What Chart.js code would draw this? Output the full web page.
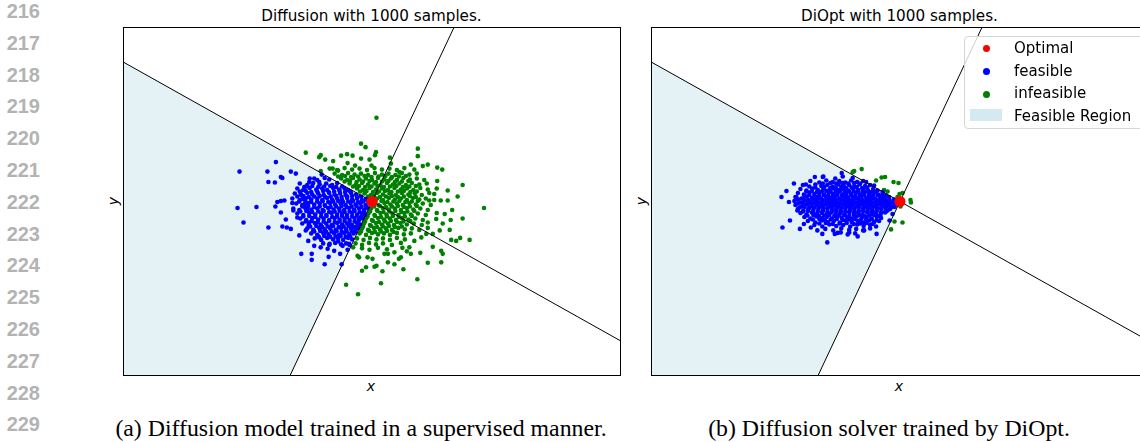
<!DOCTYPE html>
<html>
<head>
<meta charset="utf-8">
<script src="https://cdn.jsdelivr.net/npm/chart.js@4.4.1/dist/chart.umd.min.js"></script>
<style>
html, body { margin: 0; padding: 0; background: #fff; }
body { width: 1140px; height: 442px; overflow: hidden; position: relative; }
canvas { position: absolute; }
.ln { position: absolute; left: 4px; width: 36px; text-align: right; font: bold 20px "Liberation Sans", Arial, sans-serif; color: #b3b3b3; line-height: 20px; }
.ttl { position: absolute; width: 497px; text-align: center; font: 15.2px "DejaVu Sans", sans-serif; line-height: 16px; top: 8px; }
.ax { position: absolute; font: italic 14px "DejaVu Sans", sans-serif; line-height: 16px; width: 20px; text-align: center; }
.cap { position: absolute; width: 600px; text-align: center; font: 23.8px "Liberation Serif", "Times New Roman", serif; line-height: 24px; top: 416px; }
#legend { position: absolute; left: 964px; top: 36px; width: 180px; height: 93px; box-sizing: border-box; border: 1px solid #d6d6d6; border-radius: 4px; background: rgba(255,255,255,0.8); }
.li { position: absolute; left: 49px; font: 15px "DejaVu Sans", sans-serif; line-height: 16px; white-space: nowrap; }
.dot { position: absolute; left: 18px; width: 7px; height: 7px; border-radius: 50%; }
.patch { position: absolute; left: 5px; top: 72px; width: 32px; height: 12px; background: #d5e9f0; }
</style>
</head>
<body>
<div id="page"></div>
<canvas id="left" width="498" height="349" style="left:123px;top:27px"></canvas>
<canvas id="right" width="498" height="349" style="left:651px;top:27px"></canvas>
<div id="legend"></div>
<script>
// line numbers down the margin
const lineNumbers = ['216','217','218','219','220','221','222','223','224','225','226','227','228','229'];
const titles = ['Diffusion with 1000 samples.', 'DiOpt with 1000 samples.'];
const captions = ['(a) Diffusion model trained in a supervised manner.', '(b) Diffusion solver trained by DiOpt.'];
const legendLabels = ['Optimal', 'feasible', 'infeasible', 'Feasible Region'];

// the optimum, the two constraint lines and the feasible polygon
const optimum = [[0, 0]];
const constraintA = [[-5, 2.8], [5, -2.8]];
const constraintB = [[-1.65, -3.5], [1.65, 3.5]];
const regionCorners = [[-5, 2.8], [0, 0], [-1.65, -3.5], [-5, -3.5]];

// left: supervised diffusion
const leftFeasible = [
  [-2.66,0.60],[-2.10,0.60],[-1.93,0.79],[-2.08,0.39],[-1.95,0.38],[-1.83,0.49],[-1.80,0.47],[-1.63,0.60],[-1.53,0.56],
  [-2.70,-0.13],[-2.32,-0.11],[-2.58,-0.42],[-2.08,-0.52],[-1.94,-0.10],[-1.90,-0.01],[-1.83,0.01],[-1.76,0.02],
  [-1.83,-0.22],[-1.73,-0.36],[-1.80,-0.50],[-1.71,-0.52],[-1.63,-0.55],[-1.60,-0.03],[-1.58,-0.18],[-1.50,-0.32],
  [-1.46,-0.68],[-1.42,-1.05],[-1.21,-1.05],[-1.21,-1.17],[-0.95,-1.26],[-0.87,-1.11],[-0.64,-1.05],[-0.61,-1.26],
  [-1.36,0.29],[-1.26,0.39],[-1.16,0.46],[-1.06,0.39],[-1.01,0.54],[-1.43,0.15],[-1.40,0.05],[-1.35,-0.05],
  [-1.30,-0.15],[-1.26,-0.42],[-1.33,-0.58],[-1.28,-0.79],[-1.16,-0.89],[-1.06,-0.72],[-1.03,-0.92],[-0.89,-0.95],
  [-0.85,-0.85],[-0.76,-0.99],[-0.68,-0.80],[-0.59,-0.89],[-0.49,-0.97],[-0.46,-0.85],
  [-1.25,0.46],[-1.1,0.43],[-0.95,0.47],[-0.86,0.44],
  [-1.45,0.36],[-1.3,0.33],[-1.18,0.37],[-1.05,0.34],[-0.92,0.36],[-0.8,0.33],[-0.7,0.37],
  [-1.5,0.26],[-1.38,0.23],[-1.25,0.27],[-1.12,0.24],[-1.0,0.26],[-0.9,0.23],[-0.78,0.27],[-0.66,0.24],[-0.55,0.26],[-0.48,0.23],
  [-1.55,0.16],[-1.42,0.13],[-1.3,0.17],[-1.2,0.14],[-1.08,0.16],[-0.97,0.13],[-0.86,0.17],[-0.75,0.14],[-0.64,0.16],[-0.53,0.13],[-0.42,0.17],[-0.32,0.14],
  [-1.6,0.06],[-1.45,0.03],[-1.33,0.07],[-1.22,0.04],[-1.1,0.06],[-1.0,0.03],[-0.9,0.07],[-0.8,0.04],[-0.7,0.06],[-0.6,0.03],[-0.5,0.07],[-0.4,0.04],[-0.3,0.06],[-0.2,0.03],[-0.12,0.05],
  [-1.52,-0.04],[-1.4,-0.07],[-1.28,-0.03],[-1.16,-0.06],[-1.05,-0.04],[-0.95,-0.07],[-0.84,-0.03],[-0.74,-0.06],[-0.63,-0.04],[-0.53,-0.07],[-0.43,-0.03],[-0.33,-0.06],[-0.23,-0.04],[-0.13,-0.07],[-0.06,-0.03],
  [-1.58,-0.14],[-1.46,-0.17],[-1.34,-0.13],[-1.22,-0.16],[-1.1,-0.14],[-0.99,-0.17],[-0.88,-0.13],[-0.77,-0.16],[-0.66,-0.14],[-0.56,-0.17],[-0.46,-0.13],[-0.36,-0.16],[-0.26,-0.14],[-0.16,-0.17],[-0.1,-0.13],
  [-1.5,-0.24],[-1.38,-0.27],[-1.26,-0.23],[-1.14,-0.26],[-1.02,-0.24],[-0.92,-0.27],[-0.81,-0.23],[-0.7,-0.26],[-0.6,-0.24],[-0.5,-0.27],[-0.4,-0.23],[-0.3,-0.26],[-0.2,-0.24],[-0.14,-0.27],
  [-1.44,-0.34],[-1.32,-0.37],[-1.2,-0.33],[-1.08,-0.36],[-0.97,-0.34],[-0.86,-0.37],[-0.75,-0.33],[-0.65,-0.36],[-0.55,-0.34],[-0.45,-0.37],[-0.35,-0.33],[-0.26,-0.36],[-0.19,-0.34],
  [-1.4,-0.44],[-1.27,-0.47],[-1.15,-0.43],[-1.03,-0.46],[-0.92,-0.44],[-0.81,-0.47],[-0.7,-0.43],[-0.6,-0.46],[-0.5,-0.44],[-0.4,-0.47],[-0.3,-0.43],[-0.24,-0.46],
  [-1.3,-0.54],[-1.18,-0.57],[-1.06,-0.53],[-0.95,-0.56],[-0.84,-0.54],[-0.73,-0.57],[-0.62,-0.53],[-0.52,-0.56],[-0.42,-0.54],[-0.33,-0.57],[-0.28,-0.53],
  [-1.22,-0.64],[-1.1,-0.67],[-0.98,-0.63],[-0.87,-0.66],[-0.76,-0.64],[-0.66,-0.67],[-0.56,-0.63],[-0.46,-0.66],[-0.37,-0.64],
  [-1.15,-0.74],[-1.02,-0.77],[-0.9,-0.73],[-0.78,-0.76],[-0.68,-0.74],[-0.58,-0.77],[-0.48,-0.73],[-0.4,-0.76],
  [-0.98,-0.84],[-0.86,-0.87],[-0.74,-0.83],[-0.62,-0.86],[-0.52,-0.84],[-0.45,-0.87],
  [-1.32,0.30],[-1.2,0.31],[-1.08,0.29],[-0.96,0.30],[-0.84,0.31],[-0.72,0.29],[-0.6,0.30],
  [-1.45,0.20],[-1.33,0.21],[-1.22,0.19],[-1.1,0.20],[-0.98,0.21],[-0.87,0.19],[-0.76,0.20],[-0.65,0.21],[-0.54,0.19],[-0.44,0.20],
  [-1.5,0.10],[-1.38,0.11],[-1.27,0.09],[-1.16,0.10],[-1.05,0.11],[-0.94,0.09],[-0.83,0.10],[-0.72,0.11],[-0.61,0.09],[-0.5,0.10],[-0.4,0.11],[-0.3,0.09],[-0.22,0.10],
  [-1.46,0.0],[-1.34,0.01],[-1.22,-0.01],[-1.1,0.0],[-0.99,0.01],[-0.88,-0.01],[-0.78,0.0],[-0.68,0.01],[-0.58,-0.01],[-0.48,0.0],[-0.38,0.01],[-0.28,-0.01],[-0.18,0.0],[-0.09,0.01],
  [-1.4,-0.10],[-1.28,-0.09],[-1.16,-0.11],[-1.05,-0.10],[-0.94,-0.09],[-0.83,-0.11],[-0.72,-0.10],[-0.61,-0.09],[-0.51,-0.11],[-0.41,-0.10],[-0.31,-0.09],[-0.21,-0.11],[-0.12,-0.10],
  [-1.44,-0.20],[-1.32,-0.19],[-1.2,-0.21],[-1.08,-0.20],[-0.97,-0.19],[-0.86,-0.21],[-0.75,-0.20],[-0.65,-0.19],[-0.55,-0.21],[-0.45,-0.20],[-0.35,-0.19],[-0.25,-0.21],[-0.16,-0.20],
  [-1.38,-0.30],[-1.26,-0.29],[-1.14,-0.31],[-1.02,-0.30],[-0.91,-0.29],[-0.8,-0.31],[-0.7,-0.30],[-0.6,-0.29],[-0.5,-0.31],[-0.4,-0.30],[-0.3,-0.29],[-0.22,-0.31],
  [-1.33,-0.40],[-1.21,-0.39],[-1.09,-0.41],[-0.97,-0.40],[-0.86,-0.39],[-0.75,-0.41],[-0.65,-0.40],[-0.55,-0.39],[-0.45,-0.41],[-0.35,-0.40],[-0.27,-0.39],
  [-1.24,-0.50],[-1.12,-0.49],[-1.0,-0.51],[-0.89,-0.50],[-0.78,-0.49],[-0.67,-0.51],[-0.57,-0.50],[-0.47,-0.49],[-0.37,-0.51],[-0.3,-0.50],
  [-1.16,-0.60],[-1.04,-0.59],[-0.92,-0.61],[-0.81,-0.60],[-0.71,-0.59],[-0.61,-0.61],[-0.51,-0.60],[-0.41,-0.59],[-0.34,-0.61],
  [-1.08,-0.70],[-0.96,-0.69],[-0.84,-0.71],[-0.73,-0.70],[-0.63,-0.69],[-0.53,-0.71],[-0.44,-0.70]
];
const leftInfeasible = [
  [0.09,1.68],[-0.22,1.16],[-0.13,1.09],[0.08,0.99],[0.06,0.93],[0.36,0.88],[0.92,1.06],[0.92,0.91],
  [-1.33,0.98],[-1.06,0.89],[-1.03,0.93],[-0.94,0.84],[-0.78,0.81],[-0.62,0.92],[-0.50,0.95],[-0.39,0.92],
  [-0.49,0.77],[-0.34,0.72],[-0.22,0.86],[-0.05,0.84],[-0.01,0.72],[-1.03,0.61],[-0.79,0.66],[-0.68,0.62],
  [0.38,0.76],[0.55,0.59],[0.78,0.74],[1.02,0.71],[1.12,0.74],[1.31,0.68],[1.41,0.64],[1.82,0.33],[1.52,0.22],
  [1.31,0.41],[2.25,-0.13],[1.72,0.10],[1.61,-0.17],[1.82,-0.34],[1.58,-0.37],[1.56,-0.57],[1.59,-0.77],
  [1.69,-0.79],[1.77,-0.73],[1.96,-0.77],[1.42,-0.44],[1.39,-0.99],[1.42,-1.05],[1.39,-1.22],[1.22,-0.91],
  [1.12,-1.23],[0.97,-1.03],[0.91,-1.56],[0.63,-1.36],[0.18,-1.64],[-0.28,-1.86],[-0.52,-1.67],[-0.20,-1.39],
  [-0.12,-1.32],[0.05,-1.31],[0.09,-1.29],[0.21,-1.40],[-0.29,-1.09],[-0.38,-0.92],[-0.26,-1.12],[-0.09,-1.12],
  [0.32,-1.05],[0.45,-1.02],[0.54,-1.15],[0.58,-1.12],[0.70,-1.00],[0.75,-0.92],[0.85,-0.79],[1.38,0.02],
  [1.52,0.02],[1.46,-0.25],[1.29,-0.35],[1.12,-0.42],[0.99,-0.72],[1.09,-0.65],[1.22,-0.65],[1.36,-0.58],
  [0.78,-1.05],[0.61,-0.93],[0.45,-1.26],[0.32,-1.22],[0.01,-1.15],[0.25,-1.05],[1.15,0.02],[1.25,0.15],
  [-0.85,0.66],[-0.7,0.63],[-0.55,0.67],[-0.4,0.64],[-0.25,0.66],[-0.1,0.63],[0.05,0.67],[0.2,0.64],[0.35,0.66],[0.5,0.63],[0.65,0.67],[0.85,0.64],
  [-0.75,0.56],[-0.6,0.53],[-0.48,0.57],[-0.35,0.54],[-0.22,0.56],[-0.08,0.53],[0.06,0.57],[0.2,0.54],[0.33,0.56],[0.47,0.53],[0.6,0.57],[0.75,0.54],[0.9,0.56],
  [-0.62,0.46],[-0.5,0.43],[-0.38,0.47],[-0.25,0.44],[-0.12,0.46],[0.0,0.43],[0.12,0.47],[0.25,0.44],[0.38,0.46],[0.5,0.43],[0.63,0.47],[0.76,0.44],[0.9,0.46],[1.05,0.43],
  [-0.45,0.36],[-0.33,0.33],[-0.2,0.37],[-0.08,0.34],[0.05,0.36],[0.17,0.33],[0.3,0.37],[0.42,0.34],[0.55,0.36],[0.68,0.33],[0.8,0.37],[0.95,0.34],[1.1,0.36],
  [-0.3,0.26],[-0.18,0.23],[-0.05,0.27],[0.08,0.24],[0.2,0.26],[0.32,0.23],[0.45,0.27],[0.58,0.24],[0.7,0.26],[0.83,0.23],[0.97,0.27],[1.12,0.24],[1.3,0.26],
  [-0.15,0.16],[-0.02,0.13],[0.1,0.17],[0.22,0.14],[0.35,0.16],[0.48,0.13],[0.6,0.17],[0.73,0.14],[0.86,0.16],[1.0,0.13],[1.15,0.17],
  [0.1,0.06],[0.22,0.03],[0.34,0.07],[0.46,0.04],[0.58,0.06],[0.7,0.03],[0.82,0.07],[0.95,0.04],[1.08,0.06],[1.25,0.03],
  [0.03,-0.04],[0.13,-0.07],[0.25,-0.03],[0.37,-0.06],[0.5,-0.04],[0.62,-0.07],[0.75,-0.03],[0.88,-0.06],[1.02,-0.04],[1.18,-0.07],
  [-0.02,-0.14],[0.1,-0.17],[0.22,-0.13],[0.34,-0.16],[0.46,-0.14],[0.58,-0.17],[0.7,-0.13],[0.83,-0.16],[0.97,-0.14],[1.12,-0.17],
  [-0.07,-0.24],[0.05,-0.27],[0.17,-0.23],[0.29,-0.26],[0.41,-0.24],[0.53,-0.27],[0.65,-0.23],[0.78,-0.26],[0.92,-0.24],[1.08,-0.27],[1.3,-0.23],
  [-0.12,-0.34],[0.0,-0.37],[0.12,-0.33],[0.24,-0.36],[0.36,-0.34],[0.48,-0.37],[0.6,-0.33],[0.73,-0.36],[0.87,-0.34],[1.02,-0.37],
  [-0.16,-0.44],[-0.04,-0.47],[0.08,-0.43],[0.2,-0.46],[0.32,-0.44],[0.44,-0.47],[0.57,-0.43],[0.7,-0.46],[0.84,-0.44],[1.0,-0.47],
  [-0.2,-0.54],[-0.08,-0.57],[0.04,-0.53],[0.16,-0.56],[0.28,-0.54],[0.4,-0.57],[0.53,-0.53],[0.66,-0.56],[0.8,-0.54],[0.95,-0.57],[1.12,-0.53],
  [-0.25,-0.64],[-0.12,-0.67],[0.0,-0.63],[0.12,-0.66],[0.24,-0.64],[0.36,-0.67],[0.5,-0.63],[0.64,-0.66],[0.78,-0.64],
  [-0.3,-0.74],[-0.17,-0.77],[-0.04,-0.73],[0.09,-0.76],[0.22,-0.74],[0.36,-0.77],[0.5,-0.73],[0.66,-0.76],
  [-0.33,-0.84],[-0.2,-0.87],[-0.06,-0.83],[0.08,-0.86],[0.22,-0.84],[0.4,-0.87],[0.58,-0.83],
  [-0.2,-0.94],[-0.05,-0.97],[0.12,-0.93],[0.3,-0.96],
  [-0.68,0.50],[-0.54,0.51],[-0.42,0.49],[-0.28,0.50],[-0.15,0.51],[-0.01,0.49],[0.13,0.50],[0.27,0.51],[0.4,0.49],[0.54,0.50],[0.68,0.51],
  [-0.55,0.40],[-0.44,0.41],[-0.31,0.39],[-0.18,0.40],[-0.05,0.41],[0.08,0.39],[0.2,0.40],[0.33,0.41],[0.46,0.39],[0.6,0.40],[0.73,0.41],
  [-0.38,0.30],[-0.26,0.31],[-0.14,0.29],[-0.01,0.30],[0.11,0.31],[0.24,0.29],[0.36,0.30],[0.49,0.31],[0.62,0.29],[0.75,0.30],[0.88,0.31],
  [-0.24,0.20],[-0.11,0.21],[0.02,0.19],[0.14,0.20],[0.26,0.21],[0.39,0.19],[0.52,0.20],[0.64,0.21],[0.77,0.19],[0.9,0.20],
  [-0.08,0.10],[0.04,0.11],[0.16,0.09],[0.28,0.10],[0.4,0.11],[0.52,0.09],[0.64,0.10],[0.76,0.11],[0.88,0.09],
  [0.07,0.0],[0.19,0.01],[0.31,-0.01],[0.43,0.0],[0.55,0.01],[0.67,-0.01],[0.8,0.0],[0.92,0.01],
  [0.04,-0.10],[0.16,-0.09],[0.28,-0.11],[0.4,-0.10],[0.52,-0.09],[0.64,-0.11],[0.76,-0.10],[0.9,-0.09],
  [-0.04,-0.20],[0.11,-0.19],[0.23,-0.21],[0.35,-0.20],[0.47,-0.19],[0.59,-0.21],[0.71,-0.20],[0.85,-0.19],
  [-0.09,-0.30],[0.06,-0.29],[0.18,-0.31],[0.3,-0.30],[0.42,-0.29],[0.54,-0.31],[0.66,-0.30],[0.8,-0.29],
  [-0.14,-0.40],[0.02,-0.39],[0.14,-0.41],[0.26,-0.40],[0.38,-0.39],[0.5,-0.41],[0.63,-0.40],[0.77,-0.39],
  [-0.18,-0.50],[-0.02,-0.49],[0.1,-0.51],[0.22,-0.50],[0.34,-0.49],[0.46,-0.51],[0.6,-0.50],
  [-0.22,-0.60],[-0.06,-0.59],[0.06,-0.61],[0.18,-0.60],[0.3,-0.59],[0.43,-0.61]
];

// right: DiOpt
const rightFeasible = [
  [-2.38,0.09],[-2.36,-0.52],[-2.28,0.21],[-2.23,-0.01],[-2.21,-0.38],[-2.13,0.36],[-2.08,0.09],[-2.06,-0.18],
  [-2.01,-0.55],[-1.89,0.34],[-1.71,0.49],[-1.54,0.50],[-1.46,-0.82],[-1.31,-0.65],[-1.17,0.57],[-0.85,-0.70],
  [-0.72,-0.58],[-0.47,-0.65],[-0.45,0.02],[-0.32,-0.05],[-0.25,-0.18],[-0.21,-0.38],[-0.11,-0.11],[-0.15,-0.25],
  [-0.35,0.19],[-0.52,0.32],[-0.68,0.39],[-1.66,-0.58],[-1.79,-0.52],[-1.93,-0.45],[-1.56,-0.65],[-1.19,-0.62],[-1.02,-0.62],
  [-1.55,0.49],[-1.3,0.46],[-1.15,0.5],[-0.95,0.47],
  [-1.8,0.41],[-1.62,0.38],[-1.48,0.42],[-1.35,0.39],[-1.22,0.41],[-1.1,0.38],[-0.98,0.42],[-0.86,0.39],[-0.74,0.41],
  [-1.95,0.33],[-1.82,0.30],[-1.7,0.34],[-1.58,0.31],[-1.46,0.33],[-1.35,0.30],[-1.24,0.34],[-1.13,0.31],[-1.02,0.33],[-0.92,0.30],[-0.81,0.34],[-0.7,0.31],[-0.6,0.33],
  [-2.0,0.25],[-1.88,0.22],[-1.76,0.26],[-1.65,0.23],[-1.54,0.25],[-1.44,0.22],[-1.34,0.26],[-1.24,0.23],[-1.14,0.25],[-1.04,0.22],[-0.94,0.26],[-0.84,0.23],[-0.74,0.25],[-0.64,0.22],[-0.54,0.25],[-0.45,0.22],
  [-2.05,0.17],[-1.93,0.14],[-1.82,0.18],[-1.72,0.15],[-1.62,0.17],[-1.52,0.14],[-1.43,0.18],[-1.34,0.15],[-1.25,0.17],[-1.16,0.14],[-1.07,0.18],[-0.98,0.15],[-0.89,0.17],[-0.8,0.14],[-0.71,0.18],[-0.62,0.15],[-0.53,0.17],[-0.44,0.14],[-0.35,0.15],
  [-2.1,0.09],[-1.98,0.06],[-1.87,0.10],[-1.77,0.07],[-1.67,0.09],[-1.58,0.06],[-1.49,0.10],[-1.4,0.07],[-1.31,0.09],[-1.22,0.06],[-1.13,0.10],[-1.04,0.07],[-0.95,0.09],[-0.86,0.06],[-0.77,0.10],[-0.68,0.07],[-0.59,0.09],[-0.5,0.06],[-0.41,0.10],[-0.32,0.07],[-0.22,0.09],
  [-2.12,0.01],[-2.0,-0.02],[-1.9,0.02],[-1.8,-0.01],[-1.7,0.01],[-1.61,-0.02],[-1.52,0.02],[-1.43,-0.01],[-1.34,0.01],[-1.25,-0.02],[-1.16,0.02],[-1.07,-0.01],[-0.98,0.01],[-0.89,-0.02],[-0.8,0.02],[-0.71,-0.01],[-0.62,0.01],[-0.53,-0.02],[-0.44,0.02],[-0.35,-0.01],[-0.26,0.01],[-0.17,-0.02],
  [-2.1,-0.07],[-1.98,-0.10],[-1.88,-0.06],[-1.78,-0.09],[-1.68,-0.07],[-1.59,-0.10],[-1.5,-0.06],[-1.41,-0.09],[-1.32,-0.07],[-1.23,-0.10],[-1.14,-0.06],[-1.05,-0.09],[-0.96,-0.07],[-0.87,-0.10],[-0.78,-0.06],[-0.69,-0.09],[-0.6,-0.07],[-0.51,-0.10],[-0.42,-0.06],[-0.33,-0.09],[-0.24,-0.07],[-0.15,-0.10],[-0.07,-0.06],
  [-2.05,-0.15],[-1.94,-0.18],[-1.84,-0.14],[-1.74,-0.17],[-1.64,-0.15],[-1.55,-0.18],[-1.46,-0.14],[-1.37,-0.17],[-1.28,-0.15],[-1.19,-0.18],[-1.1,-0.14],[-1.01,-0.17],[-0.92,-0.15],[-0.83,-0.18],[-0.74,-0.14],[-0.65,-0.17],[-0.56,-0.15],[-0.47,-0.18],[-0.38,-0.14],[-0.29,-0.17],[-0.2,-0.15],
  [-2.0,-0.23],[-1.88,-0.26],[-1.77,-0.22],[-1.67,-0.25],[-1.57,-0.23],[-1.47,-0.26],[-1.38,-0.22],[-1.29,-0.25],[-1.2,-0.23],[-1.11,-0.26],[-1.02,-0.22],[-0.93,-0.25],[-0.84,-0.23],[-0.75,-0.26],[-0.66,-0.22],[-0.57,-0.25],[-0.48,-0.23],[-0.39,-0.26],[-0.3,-0.22],
  [-1.92,-0.31],[-1.8,-0.34],[-1.68,-0.30],[-1.57,-0.33],[-1.47,-0.31],[-1.37,-0.34],[-1.27,-0.30],[-1.17,-0.33],[-1.07,-0.31],[-0.97,-0.34],[-0.87,-0.30],[-0.77,-0.33],[-0.67,-0.31],[-0.57,-0.34],[-0.47,-0.30],[-0.38,-0.33],
  [-1.85,-0.39],[-1.7,-0.42],[-1.57,-0.38],[-1.45,-0.41],[-1.33,-0.39],[-1.21,-0.42],[-1.09,-0.38],[-0.97,-0.41],[-0.85,-0.39],[-0.73,-0.42],[-0.62,-0.38],[-0.52,-0.41],[-0.42,-0.39],
  [-1.72,-0.47],[-1.56,-0.50],[-1.42,-0.46],[-1.28,-0.49],[-1.14,-0.47],[-1.0,-0.50],[-0.86,-0.46],[-0.73,-0.49],[-0.6,-0.47],[-0.48,-0.50],
  [-1.5,-0.55],[-1.34,-0.58],[-1.18,-0.54],[-1.02,-0.57],[-0.88,-0.55],[-0.74,-0.58],[-0.6,-0.54],
  [-1.25,-0.63],[-1.05,-0.66],[-0.9,-0.64],
  [-1.55,0.36],[-1.4,0.37],[-1.28,0.36],[-1.16,0.37],[-1.04,0.36],[-0.92,0.37],[-0.8,0.36],
  [-1.7,0.28],[-1.52,0.29],[-1.4,0.27],[-1.29,0.28],[-1.18,0.29],[-1.08,0.27],[-0.97,0.28],[-0.87,0.29],[-0.76,0.27],[-0.66,0.28],
  [-1.88,0.20],[-1.77,0.21],[-1.67,0.19],[-1.57,0.20],[-1.48,0.21],[-1.39,0.19],[-1.29,0.20],[-1.2,0.21],[-1.11,0.19],[-1.02,0.20],[-0.93,0.21],[-0.84,0.19],[-0.75,0.20],[-0.66,0.21],[-0.57,0.19],[-0.49,0.20],
  [-1.92,0.12],[-1.82,0.13],[-1.72,0.11],[-1.62,0.12],[-1.53,0.13],[-1.44,0.11],[-1.35,0.12],[-1.26,0.13],[-1.17,0.11],[-1.08,0.12],[-0.99,0.13],[-0.9,0.11],[-0.81,0.12],[-0.72,0.13],[-0.63,0.11],[-0.54,0.12],[-0.45,0.13],[-0.37,0.11],[-0.28,0.12],
  [-2.05,0.04],[-1.94,0.05],[-1.84,0.03],[-1.74,0.04],[-1.65,0.05],[-1.56,0.03],[-1.47,0.04],[-1.38,0.05],[-1.29,0.03],[-1.2,0.04],[-1.11,0.05],[-1.02,0.03],[-0.93,0.04],[-0.84,0.05],[-0.75,0.03],[-0.66,0.04],[-0.57,0.05],[-0.48,0.03],[-0.39,0.04],[-0.3,0.05],[-0.21,0.03],[-0.12,0.04],
  [-2.05,-0.04],[-1.95,-0.03],[-1.85,-0.05],[-1.75,-0.04],[-1.65,-0.03],[-1.56,-0.05],[-1.47,-0.04],[-1.38,-0.03],[-1.29,-0.05],[-1.2,-0.04],[-1.11,-0.03],[-1.02,-0.05],[-0.93,-0.04],[-0.84,-0.03],[-0.75,-0.05],[-0.66,-0.04],[-0.57,-0.03],[-0.48,-0.05],[-0.39,-0.04],[-0.3,-0.03],[-0.21,-0.05],[-0.11,-0.04],
  [-2.02,-0.12],[-1.92,-0.11],[-1.82,-0.13],[-1.72,-0.12],[-1.63,-0.11],[-1.54,-0.13],[-1.45,-0.12],[-1.36,-0.11],[-1.27,-0.13],[-1.18,-0.12],[-1.09,-0.11],[-1.0,-0.13],[-0.91,-0.12],[-0.82,-0.11],[-0.73,-0.13],[-0.64,-0.12],[-0.55,-0.11],[-0.46,-0.13],[-0.37,-0.12],[-0.28,-0.11],[-0.19,-0.13],
  [-1.95,-0.20],[-1.85,-0.19],[-1.75,-0.21],[-1.65,-0.20],[-1.55,-0.19],[-1.46,-0.21],[-1.37,-0.20],[-1.28,-0.19],[-1.19,-0.21],[-1.1,-0.20],[-1.01,-0.19],[-0.92,-0.21],[-0.83,-0.20],[-0.74,-0.19],[-0.65,-0.21],[-0.56,-0.20],[-0.47,-0.19],[-0.38,-0.21],[-0.28,-0.20],
  [-1.86,-0.28],[-1.74,-0.27],[-1.63,-0.29],[-1.52,-0.28],[-1.42,-0.27],[-1.32,-0.29],[-1.22,-0.28],[-1.12,-0.27],[-1.02,-0.29],[-0.92,-0.28],[-0.82,-0.27],[-0.72,-0.29],[-0.62,-0.28],[-0.52,-0.27],[-0.42,-0.29],
  [-1.75,-0.36],[-1.62,-0.35],[-1.51,-0.37],[-1.39,-0.36],[-1.27,-0.35],[-1.15,-0.37],[-1.03,-0.36],[-0.91,-0.35],[-0.79,-0.37],[-0.68,-0.36],[-0.57,-0.35],[-0.47,-0.37],
  [-1.62,-0.44],[-1.49,-0.43],[-1.35,-0.45],[-1.21,-0.44],[-1.07,-0.43],[-0.93,-0.45],[-0.8,-0.44],[-0.67,-0.43],[-0.55,-0.45]
];
const rightInfeasible = [
  [-0.95,0.59],[-0.92,0.61],[-0.77,0.65],[-0.48,0.42],[-0.37,0.48],[-0.30,0.49],[-0.13,0.39],[-0.03,0.37],
  [-0.32,0.23],[-0.25,0.20],[-0.01,0.15],[0.05,0.17],[0.21,0.03],[0.22,-0.02],[0.01,-0.10],[-0.11,-0.40],
  [0.05,-0.42],[-0.18,-0.56],[-0.05,0.09]
];

const framePlugin = {
  id: 'frame',
  afterDraw(chart) {
    const { ctx, chartArea: a } = chart;
    ctx.save();
    ctx.strokeStyle = '#000';
    ctx.lineWidth = 1;
    ctx.strokeRect(a.left + 0.5, a.top + 0.5, a.right - a.left - 1, a.bottom - a.top - 1);
    ctx.restore();
  }
};

const pts = arr => arr.map(p => ({ x: p[0], y: p[1] }));

function diffusionChart(canvasId, feasible, infeasible) {
  const ctx = document.getElementById(canvasId).getContext('2d');
  return new Chart(ctx, {
    type: 'scatter',
    data: {
      datasets: [{
        label: legendLabels[0],
        data: pts(optimum),
        backgroundColor: '#ff0000',
        pointRadius: 5.5,
        pointBorderWidth: 0,
        order: 0
      }, {
        label: 'constraint 1',
        data: pts(constraintA),
        showLine: true,
        borderColor: '#000',
        borderWidth: 1,
        pointRadius: 0,
        order: 1
      }, {
        label: 'constraint 2',
        data: pts(constraintB),
        showLine: true,
        borderColor: '#000',
        borderWidth: 1,
        pointRadius: 0,
        order: 1
      }, {
        label: legendLabels[1],
        data: pts(feasible),
        backgroundColor: '#0000ff',
        pointRadius: 2.3,
        pointBorderWidth: 0,
        order: 2
      }, {
        label: legendLabels[2],
        data: pts(infeasible),
        backgroundColor: '#008000',
        pointRadius: 2.3,
        pointBorderWidth: 0,
        order: 3
      }, {
        label: legendLabels[3],
        data: pts(regionCorners),
        showLine: true,
        fill: 'shape',
        backgroundColor: '#e4f2f6',
        borderColor: 'rgba(0,0,0,0)',
        borderWidth: 0,
        pointRadius: 0,
        order: 4
      }]
    },
    options: {
      responsive: false,
      animation: false,
      events: [],
      layout: { padding: 0, autoPadding: false },
      plugins: {
        legend: { display: false },
        tooltip: { enabled: false }
      },
      scales: {
        x: { type: 'linear', min: -5, max: 5, display: false },
        y: { type: 'linear', min: -3.5, max: 3.5, display: false }
      }
    },
    plugins: [framePlugin]
  });
}

diffusionChart('left', leftFeasible, leftInfeasible);
diffusionChart('right', rightFeasible, rightInfeasible);

// text around the plots
const page = document.getElementById('page');
lineNumbers.forEach((n, i) => {
  const d = document.createElement('div');
  d.className = 'ln';
  d.style.top = (1 + i * 31.8) + 'px';
  d.textContent = n;
  page.appendChild(d);
});
[123, 651].forEach((left, i) => {
  const t = document.createElement('div');
  t.className = 'ttl';
  t.style.left = left + 'px';
  t.textContent = titles[i];
  page.appendChild(t);
  const x = document.createElement('div');
  x.className = 'ax';
  x.style.left = (left + 238) + 'px';
  x.style.top = '378px';
  x.textContent = 'x';
  page.appendChild(x);
  const y = document.createElement('div');
  y.className = 'ax';
  y.style.left = (left - 20) + 'px';
  y.style.top = '193px';
  y.style.transform = 'rotate(-90deg)';
  y.textContent = 'y';
  page.appendChild(y);
});
[361, 889].forEach((cx, i) => {
  const c = document.createElement('div');
  c.className = 'cap';
  c.style.left = (cx - 300) + 'px';
  c.textContent = captions[i];
  page.appendChild(c);
});

// legend box
const legend = document.getElementById('legend');
const dotColors = ['#ff0000', '#0000ff', '#008000'];
legendLabels.forEach((lab, i) => {
  if (i < 3) {
    const d = document.createElement('div');
    d.className = 'dot';
    d.style.top = (8 + i * 23) + 'px';
    d.style.background = dotColors[i];
    legend.appendChild(d);
  } else {
    const p = document.createElement('div');
    p.className = 'patch';
    legend.appendChild(p);
  }
  const t = document.createElement('div');
  t.className = 'li';
  t.style.top = (3 + i * 22.5) + 'px';
  t.textContent = lab;
  legend.appendChild(t);
});
</script>
</body>
</html>
